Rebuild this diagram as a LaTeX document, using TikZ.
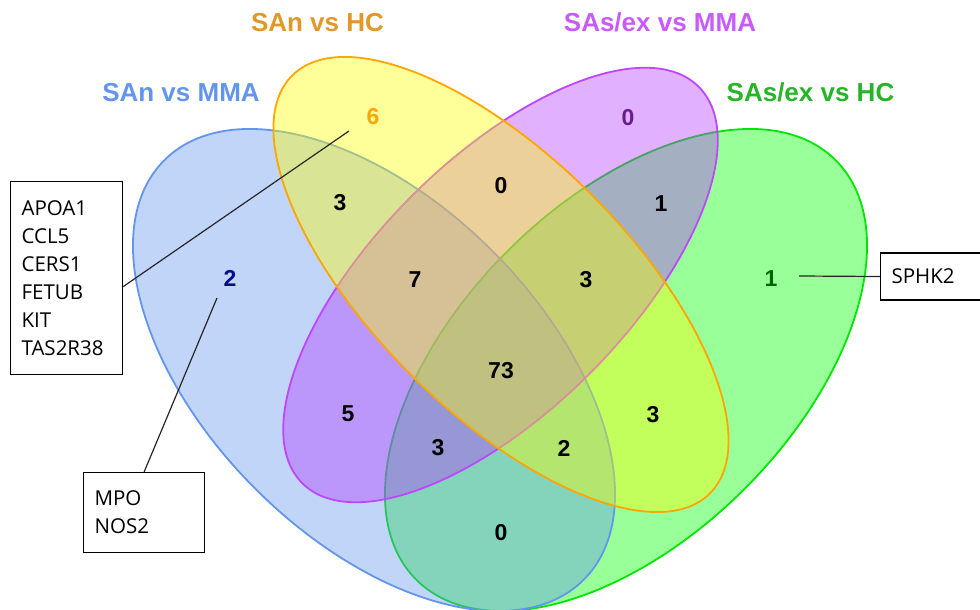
\documentclass[tikz,border=0pt]{standalone}
\usepackage{fontspec}
\setmainfont{Liberation Sans}
\newfontfamily\genefont{Open Sans}
\definecolor{cblue}{RGB}{100,149,237}
\definecolor{cyellow}{RGB}{255,255,0}
\definecolor{cpurple}{RGB}{180,60,255}
\definecolor{cgreen}{RGB}{0,255,0}
\definecolor{sblue}{RGB}{100,149,237}
\definecolor{syellow}{RGB}{255,165,0}
\definecolor{spurple}{RGB}{190,70,255}
\definecolor{sgreen}{RGB}{0,230,0}
\definecolor{tyellow}{RGB}{226,152,40}
\definecolor{tpurple}{RGB}{200,90,255}
\definecolor{tgreen}{RGB}{40,180,40}
\definecolor{nblue}{RGB}{10,10,140}
\definecolor{npurple}{RGB}{105,30,140}
\definecolor{ngreen}{RGB}{0,100,0}
\definecolor{norange}{RGB}{255,165,0}
\begin{document}
\begin{tikzpicture}[x=1pt,y=-1pt,
  vset/.style={line width=1.8pt, fill opacity=0.4},
  title/.style={anchor=base, inner sep=0pt, font=\fontsize{26}{30}\selectfont\bfseries},
  num/.style={anchor=base, inner sep=0pt, font=\fontsize{23}{26}\selectfont\bfseries},
  genebox/.style={draw, line width=1.2pt, align=left, inner xsep=11pt,
     font=\genefont\fontsize{20.5}{28}\selectfont},
  leader/.style={line width=1.2pt, draw=black!85}]
\useasboundingbox (0,0) rectangle (980,610);
% ellipses (order: green, blue, purple, yellow)
\draw[vset, draw=sgreen, fill=cgreen, rotate around={45:(626,370)}]
  (626,370) ellipse [x radius=296.6, y radius=167.9];
\draw[vset, draw=sblue, fill=cblue, rotate around={-45:(374,370)}]
  (374,370) ellipse [x radius=296.6, y radius=167.9];
\draw[vset, draw=spurple, fill=cpurple, rotate around={45:(500.5,285)}]
  (500.5,285) ellipse [x radius=280.3, y radius=125.7];
\draw[vset, draw=syellow, fill=cyellow, rotate around={-45:(501,284.5)}]
  (501,284.5) ellipse [x radius=295.4, y radius=127.5];
% titles
\node[title, text=sblue] (tA) at (181,101) {SAn vs MMA};
\node[title, text=tyellow] (tB) at (317.5,32) {SAn vs HC};
\node[title, text=tpurple] (tC) at (660,32) {SAs/ex vs MMA};
\node[title, text=tgreen] (tD) at (810.5,101) {SAs/ex vs HC};
% numbers
\node[num, text=norange] (n6) at (373,124) {6};
\node[num, text=nblue] (n2a) at (230,286) {2};
\node[num, text=npurple] (n0a) at (628,125) {0};
\node[num, text=ngreen] (n1a) at (771,286) {1};
\node[num] (n3a) at (340,210) {3};
\node[num] (n7) at (415,287) {7};
\node[num] (n0b) at (501,193) {0};
\node[num] (n1b) at (661,211) {1};
\node[num] (n3b) at (586,287) {3};
\node[num] (n73) at (501,378) {73};
\node[num] (n5) at (348,421) {5};
\node[num] (n3c) at (438,455) {3};
\node[num] (n2b) at (564,456) {2};
\node[num] (n3d) at (653,422) {3};
\node[num] (n0c) at (501,540) {0};
% gene boxes
\node[genebox, anchor=north west, text width=90pt, minimum height=193pt] (genes) at (10,181)
  {APOA1\\CCL5\\CERS1\\FETUB\\KIT\\TAS2R38};
\node[genebox, anchor=north west, text width=99pt, minimum height=80pt] (mpo) at (83,472)
  {MPO\\NOS2};
\node[genebox, anchor=west, text width=100pt, minimum height=47pt] (sphk) at (880,276.5)
  {SPHK2};
% leaders
\coordinate (c6) at (349,131);
\coordinate (c2) at (217,298);
\coordinate (c1) at (799,276);
\draw[leader] (genes.east) ++(0,8.5) -- (c6);
\draw[leader] (mpo.north) -- (c2);
\draw[leader] (c1) -- (sphk.west);
\end{tikzpicture}
\end{document}
